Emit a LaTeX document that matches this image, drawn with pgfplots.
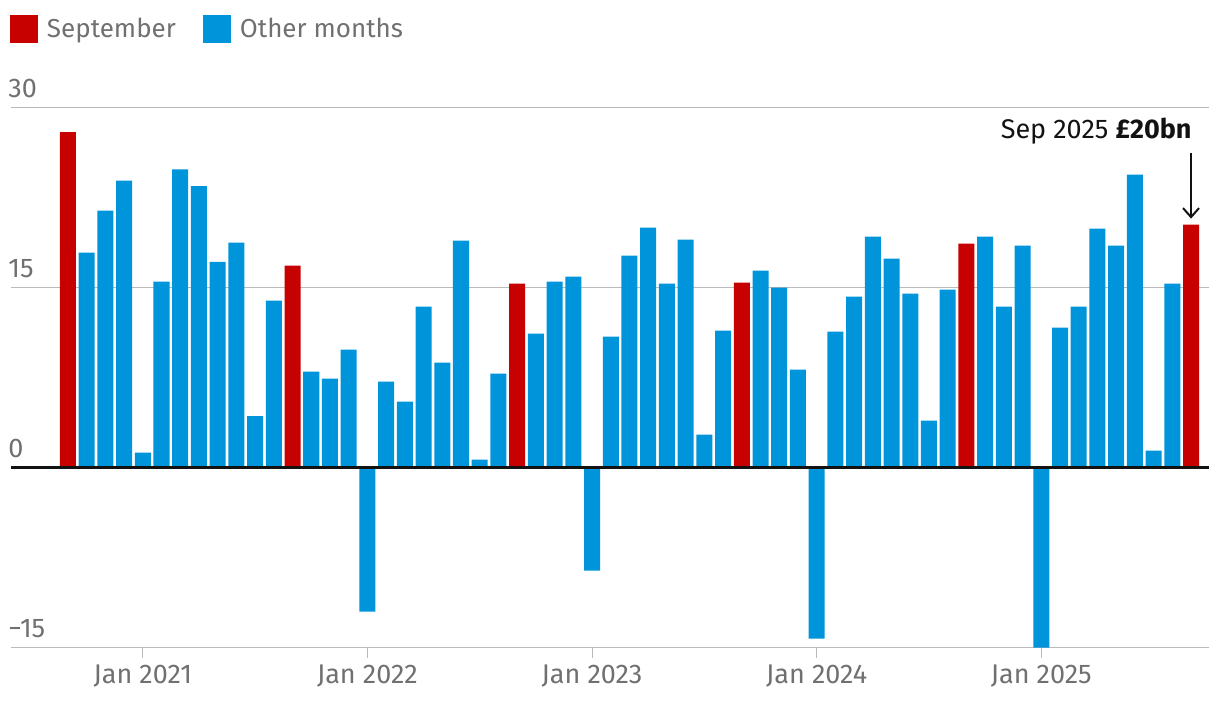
\documentclass[border=0pt]{standalone}
\usepackage{fontspec}
\setmainfont{Fira Sans}
\usepackage{pgfplots}
\pgfplotsset{compat=1.18}
\usetikzlibrary{arrows.meta}

\definecolor{sepred}{HTML}{C70000}
\definecolor{otherblue}{HTML}{0095DA}
\definecolor{labgray}{HTML}{707070}
\definecolor{gridgray}{HTML}{BBBBBB}
\definecolor{ink}{HTML}{121212}

\begin{document}
\begin{tikzpicture}
\useasboundingbox (-5.5pt,-32.5pt) rectangle (604.5pt,323.5pt);
\begin{axis}[
    at={(0,0)}, anchor=south west,
    scale only axis,
    width=599pt, height=270pt,
    ybar, bar width=0.855, bar shift=0pt,
    xmin=-3.04, xmax=60.96,
    ymin=-15, ymax=30,
    enlargelimits=false,
    axis line style={draw=none},
    ymajorgrids,
    major grid style={draw=gridgray, line width=0.5pt},
    ytick={-15,0,15,30},
    yticklabels={−15,0,15,30},
    ytick style={draw=none},
    yticklabel style={anchor=south west, inner sep=0pt, yshift=4.5pt, xshift=4pt, text=labgray},
    xtick={4,16,28,40,52},
    xticklabels={Jan 2021,Jan 2022,Jan 2023,Jan 2024,Jan 2025},
    xtick pos=bottom,
    tick align=outside,
    major tick length=5.5pt,
    xtick style={draw=gridgray, line width=0.5pt},
    xticklabel style={anchor=north, inner sep=0pt, yshift=-3pt, text=labgray},
    tick label style={font=\fontsize{13.5}{15}\selectfont},
    legend columns=2,
    legend style={at={(0,1)}, anchor=north west, yshift=46pt, xshift=-0.5pt,
        draw=none, fill=none, inner sep=0pt, outer sep=0pt,
        nodes={inner xsep=4.5pt, inner ysep=0pt},
        font=\fontsize{13}{15}\selectfont, text=labgray,
        /tikz/every even column/.append style={column sep=9pt}},
    legend cell align=left,
    legend image code/.code={\fill[#1] (0pt,-7pt) rectangle (14pt,7pt);},
]
% September bars
\addplot[fill=sepred, draw=none] coordinates {
    (0,27.9) (12,16.78) (24,15.28) (36,15.36) (48,18.61) (60,20.19)
};
% all other months
\addplot[fill=otherblue, draw=none] coordinates {
    (1,17.86) (2,21.36) (3,23.86) (4,1.2) (5,15.44) (6,24.8) (7,23.4)
    (8,17.1) (9,18.69) (10,4.25) (11,13.86)
    (13,7.94) (14,7.36) (15,9.78) (16,-12.05) (17,7.11) (18,5.44) (19,13.36)
    (20,8.69) (21,18.86) (22,0.61) (23,7.78)
    (25,11.11) (26,15.44) (27,15.86) (28,-8.64) (29,10.86) (30,17.61) (31,19.94)
    (32,15.28) (33,18.94) (34,2.69) (35,11.36)
    (37,16.36) (38,14.94) (39,8.11) (40,-14.3) (41,11.28) (42,14.19) (43,19.19)
    (44,17.36) (45,14.44) (46,3.86) (47,14.78)
    (49,19.19) (50,13.36) (51,18.44) (52,-15.05) (53,11.61) (54,13.36) (55,19.86)
    (56,18.44) (57,24.36) (58,1.36) (59,15.28)
};
\legend{September, Other months}
% zero line
\draw[ink, line width=1.5pt] (axis cs:-3.04,0) -- (axis cs:60.96,0);
% annotation
\node[anchor=base east, inner sep=0pt, text=ink, font=\fontsize{13.5}{15}\selectfont]
    at (axis cs:60.05,27.36) {Sep 2025 \textbf{£20bn}};
\draw[ink, line width=1pt, -{Straight Barb[length=4.5pt,width=8pt]}]
    (axis cs:60,26.2) -- (axis cs:60,20.7);
\end{axis}
\end{tikzpicture}
\end{document}
